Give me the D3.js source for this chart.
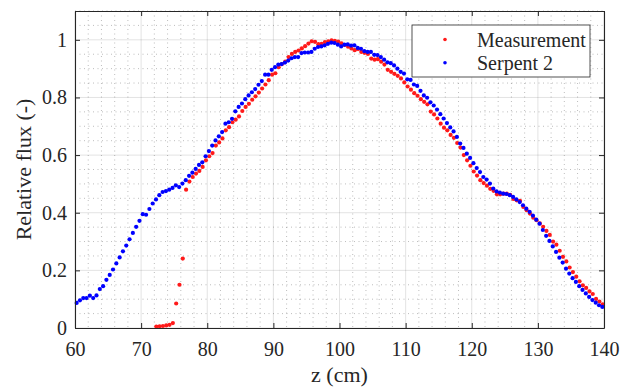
<!DOCTYPE html>
<html>
<head>
<meta charset="utf-8">
<script src="https://cdnjs.cloudflare.com/ajax/libs/d3/7.8.5/d3.min.js"></script>
<style>
  body { margin: 0; background: #fff; }
  svg text { font-family: "Liberation Serif", "Tinos", "DejaVu Serif", serif !important; fill: #262626; }
</style>
</head>
<body>
<div id="chart"></div>
<script>
// Data

var seriesNames = ["Measurement", "Serpent 2"]

var measZ = [
  72.3, 72.8, 73.3, 73.8, 74.3, 74.8, 75.3, 75.8, 76.3, 76.8,
  77.3, 77.8, 78.3, 78.8, 79.3, 79.8, 80.3, 80.8, 81.3, 81.8,
  82.3, 82.8, 83.3, 83.8, 84.3, 84.8, 85.3, 85.8, 86.3, 86.8,
  87.3, 87.8, 88.3, 88.8, 89.3, 89.8, 90.3, 90.8, 91.3, 91.8,
  92.3, 92.8, 93.3, 93.8, 94.3, 94.8, 95.3, 95.8, 96.3, 96.8,
  97.3, 97.8, 98.3, 98.8, 99.3, 99.8, 100.3, 100.8, 101.3, 101.8,
  102.3, 102.8, 103.3, 103.8, 104.3, 104.8, 105.3, 105.8, 106.3, 106.8,
  107.3, 107.8, 108.3, 108.8, 109.3, 109.8, 110.3, 110.8, 111.3, 111.8,
  112.3, 112.8, 113.3, 113.8, 114.3, 114.8, 115.3, 115.8, 116.3, 116.8,
  117.3, 117.8, 118.3, 118.8, 119.3, 119.8, 120.3, 120.8, 121.3, 121.8,
  122.3, 122.8, 123.3, 123.8, 124.3, 124.8, 125.3, 125.8, 126.3, 126.8,
  127.3, 127.8, 128.3, 128.8, 129.3, 129.8, 130.3, 130.8, 131.3, 131.8,
  132.3, 132.8, 133.3, 133.8, 134.3, 134.8, 135.3, 135.8, 136.3, 136.8,
  137.3, 137.8, 138.3, 138.8, 139.3, 139.8
]
var measFlux = [
  .005, .006, .007, .009, .011, .017, .085, .150, .241, .480,
  .508, .524, .536, .545, .559, .582, .596, .607, .633, .644,
  .658, .686, .697, .714, .723, .734, .753, .767, .778, .792,
  .804, .817, .831, .845, .860, .879, .884, .905, .916, .924,
  .940, .951, .958, .963, .970, .978, .987, .995, .993, .985,
  .986, .992, .995, .998, .996, .994, .988, .982, .976, .970,
  .964, .968, .958, .955, .951, .935, .931, .933, .924, .914,
  .896, .889, .882, .875, .866, .852, .838, .827, .815, .806,
  .794, .785, .776, .751, .741, .727, .709, .695, .686, .670,
  .660, .642, .626, .600, .582, .563, .543, .529, .513, .503,
  .494, .483, .476, .464, .464, .466, .466, .462, .448, .443,
  .441, .420, .409, .397, .383, .374, .363, .351, .337, .323,
  .300, .289, .268, .247, .231, .210, .194, .178, .162, .148,
  .139, .127, .118, .101, .092, .082
]

var serpZ = [
  60.25, 60.75, 61.25, 61.75, 62.25, 62.75, 63.25, 63.75, 64.25, 64.75,
  65.25, 65.75, 66.25, 66.75, 67.25, 67.75, 68.25, 68.75, 69.25, 69.75,
  70.25, 70.75, 71.25, 71.75, 72.25, 72.75, 73.25, 73.75, 74.25, 74.75,
  75.25, 75.75, 76.25, 76.75, 77.25, 77.75, 78.25, 78.75, 79.25, 79.75,
  80.25, 80.75, 81.25, 81.75, 82.25, 82.75, 83.25, 83.75, 84.25, 84.75,
  85.25, 85.75, 86.25, 86.75, 87.25, 87.75, 88.25, 88.75, 89.25, 89.75,
  90.25, 90.75, 91.25, 91.75, 92.25, 92.75, 93.25, 93.75, 94.25, 94.75,
  95.25, 95.75, 96.25, 96.75, 97.25, 97.75, 98.25, 98.75, 99.25, 99.75,
  100.25, 100.75, 101.25, 101.75, 102.25, 102.75, 103.25, 103.75, 104.25, 104.75,
  105.25, 105.75, 106.25, 106.75, 107.25, 107.75, 108.25, 108.75, 109.25, 109.75,
  110.25, 110.75, 111.25, 111.75, 112.25, 112.75, 113.25, 113.75, 114.25, 114.75,
  115.25, 115.75, 116.25, 116.75, 117.25, 117.75, 118.25, 118.75, 119.25, 119.75,
  120.25, 120.75, 121.25, 121.75, 122.25, 122.75, 123.25, 123.75, 124.25, 124.75,
  125.25, 125.75, 126.25, 126.75, 127.25, 127.75, 128.25, 128.75, 129.25, 129.75,
  130.25, 130.75, 131.25, 131.75, 132.25, 132.75, 133.25, 133.75, 134.25, 134.75,
  135.25, 135.75, 136.25, 136.75, 137.25, 137.75, 138.25, 138.75, 139.25, 139.75
]
var serpFlux = [
  .087, .096, .104, .104, .112, .104, .113, .135, .145, .167,
  .184, .203, .224, .245, .266, .286, .308, .330, .351, .372,
  .395, .393, .413, .432, .446, .461, .472, .475, .480, .486,
  .495, .489, .501, .513, .528, .539, .552, .566, .575, .596,
  .614, .633, .651, .665, .680, .709, .714, .726, .752, .767,
  .779, .794, .807, .818, .829, .844, .857, .879, .879, .896,
  .905, .914, .916, .921, .928, .936, .940, .940, .954, .956,
  .956, .958, .969, .975, .977, .981, .986, .990, .989, .983,
  .977, .983, .984, .980, .981, .972, .969, .961, .958, .958,
  .948, .947, .940, .931, .922, .919, .911, .900, .889, .883,
  .863, .861, .845, .840, .823, .807, .799, .783, .772, .758,
  .742, .727, .711, .696, .682, .663, .640, .625, .605, .590,
  .572, .555, .541, .524, .515, .501, .484, .474, .470, .466,
  .465, .461, .455, .446, .437, .426, .414, .403, .390, .376,
  .362, .340, .320, .302, .283, .264, .244, .227, .206, .189,
  .173, .160, .145, .132, .120, .108, .097, .088, .079, .073
]

var xTicks = [60, 70, 80, 90, 100, 110, 120, 130, 140]
var yTicks = [0, 0.2, 0.4, 0.6, 0.8, 1]
var yTickLabels = ["0", "0.2", "0.4", "0.6", "0.8", "1"]

var colors = ["#ff1a1a", "#0000ff"]

// Create the SVG

var margin = { top: 11, right: 18, bottom: 61, left: 75 }

var width = 622 - margin.left - margin.right,
  height = 389 - margin.top - margin.bottom

var svg = d3.select("#chart").append("svg")
  .attr("width", width + margin.left + margin.right)
  .attr("height", height + margin.top + margin.bottom)
  .append("g")
  .attr("transform", "translate(" + margin.left + "," + margin.top + ")")

var xPositionScale = d3.scaleLinear().domain([60, 140]).range([0, width])
var yPositionScale = d3.scaleLinear().domain([0, 1.1]).range([height, 0])

// minor grid (dotted) first, then major grid
svg.append("g").selectAll("line")
  .data(xPositionScale.ticks(40).filter(function (d) { return d % 10 !== 0 }))
  .enter().append("line")
  .attr("x1", function (d) { return xPositionScale(d) })
  .attr("x2", function (d) { return xPositionScale(d) })
  .attr("y1", 0)
  .attr("y2", height)
  .attr("stroke", "#262626")
  .attr("stroke-opacity", 0.3)
  .attr("stroke-dasharray", "1,3.5")

svg.append("g").selectAll("line")
  .data(yPositionScale.ticks(22).filter(function (d) { return Math.abs(d * 5 - Math.round(d * 5)) > 1e-6 }))
  .enter().append("line")
  .attr("x1", 0)
  .attr("x2", width)
  .attr("y1", function (d) { return yPositionScale(d) })
  .attr("y2", function (d) { return yPositionScale(d) })
  .attr("stroke", "#262626")
  .attr("stroke-opacity", 0.3)
  .attr("stroke-dasharray", "1,3.5")

svg.append("g").selectAll("line")
  .data(xTicks)
  .enter().append("line")
  .attr("x1", function (d) { return xPositionScale(d) })
  .attr("x2", function (d) { return xPositionScale(d) })
  .attr("y1", 0)
  .attr("y2", height)
  .attr("stroke", "#262626")
  .attr("stroke-opacity", 0.13)

svg.append("g").selectAll("line")
  .data(yTicks)
  .enter().append("line")
  .attr("x1", 0)
  .attr("x2", width)
  .attr("y1", function (d) { return yPositionScale(d) })
  .attr("y2", function (d) { return yPositionScale(d) })
  .attr("stroke", "#262626")
  .attr("stroke-opacity", 0.13)

// points
var series = [
  { z: measZ, flux: measFlux },
  { z: serpZ, flux: serpFlux }
]

series.forEach(function (s, i) {
  svg.append("g").selectAll("circle")
    .data(s.z)
    .enter().append("circle")
    .attr("cx", function (d) { return xPositionScale(d) })
    .attr("cy", function (d, j) { return yPositionScale(s.flux[j]) })
    .attr("r", 2.1)
    .attr("fill", colors[i])
})

// axes, ticks pointing inward on all four sides
var xAxis = d3.axisBottom(xPositionScale)
  .tickValues(xTicks)
  .tickSizeInner(-5)
  .tickSizeOuter(0)
  .tickPadding(14)

var yAxis = d3.axisLeft(yPositionScale)
  .tickValues(yTicks)
  .tickFormat(function (d, i) { return yTickLabels[i] })
  .tickSizeInner(-5)
  .tickSizeOuter(0)
  .tickPadding(8)

svg.append("g")
  .attr("class", "axis x-axis")
  .attr("transform", "translate(0," + height + ")")
  .call(xAxis)

svg.append("g")
  .attr("class", "axis y-axis")
  .call(yAxis)

svg.append("g")
  .attr("class", "axis")
  .call(d3.axisTop(xPositionScale).tickValues(xTicks).tickSizeInner(-5).tickSizeOuter(0).tickFormat(""))

svg.append("g")
  .attr("class", "axis")
  .attr("transform", "translate(" + width + ",0)")
  .call(d3.axisRight(yPositionScale).tickValues(yTicks).tickSizeInner(-5).tickSizeOuter(0).tickFormat(""))

svg.selectAll(".axis").attr("font-family", null)
svg.selectAll(".axis path").attr("stroke", "#262626").attr("stroke-width", 1.1)
svg.selectAll(".axis line").attr("stroke", "#262626")
svg.selectAll(".axis text")
  .style("font-size", "20px")
  .attr("fill", "#262626")

// axis labels
svg.append("text")
  .attr("x", width / 2)
  .attr("y", height + 54)
  .attr("text-anchor", "middle")
  .style("font-size", "22px")
  .text("z (cm)")

svg.append("text")
  .attr("transform", "translate(" + (-44) + "," + (height / 2) + ") rotate(-90)")
  .attr("text-anchor", "middle")
  .style("font-size", "22px")
  .text("Relative flux (-)")

// legend
var legend = svg.append("g")
  .attr("transform", "translate(" + (412 - margin.left) + "," + (25 - margin.top) + ")")

legend.append("rect")
  .attr("width", 178)
  .attr("height", 52)
  .attr("fill", "#fff")
  .attr("stroke", "#262626")
  .attr("stroke-width", 0.8)

seriesNames.forEach(function (name, i) {
  legend.append("circle")
    .attr("cx", 33)
    .attr("cy", 14.5 + i * 23.3)
    .attr("r", 1.8)
    .attr("fill", colors[i])
  legend.append("text")
    .attr("x", 65)
    .attr("y", 21.5 + i * 23.3)
    .style("font-size", "20px")
    .text(name)
})
</script>
</body>
</html>
